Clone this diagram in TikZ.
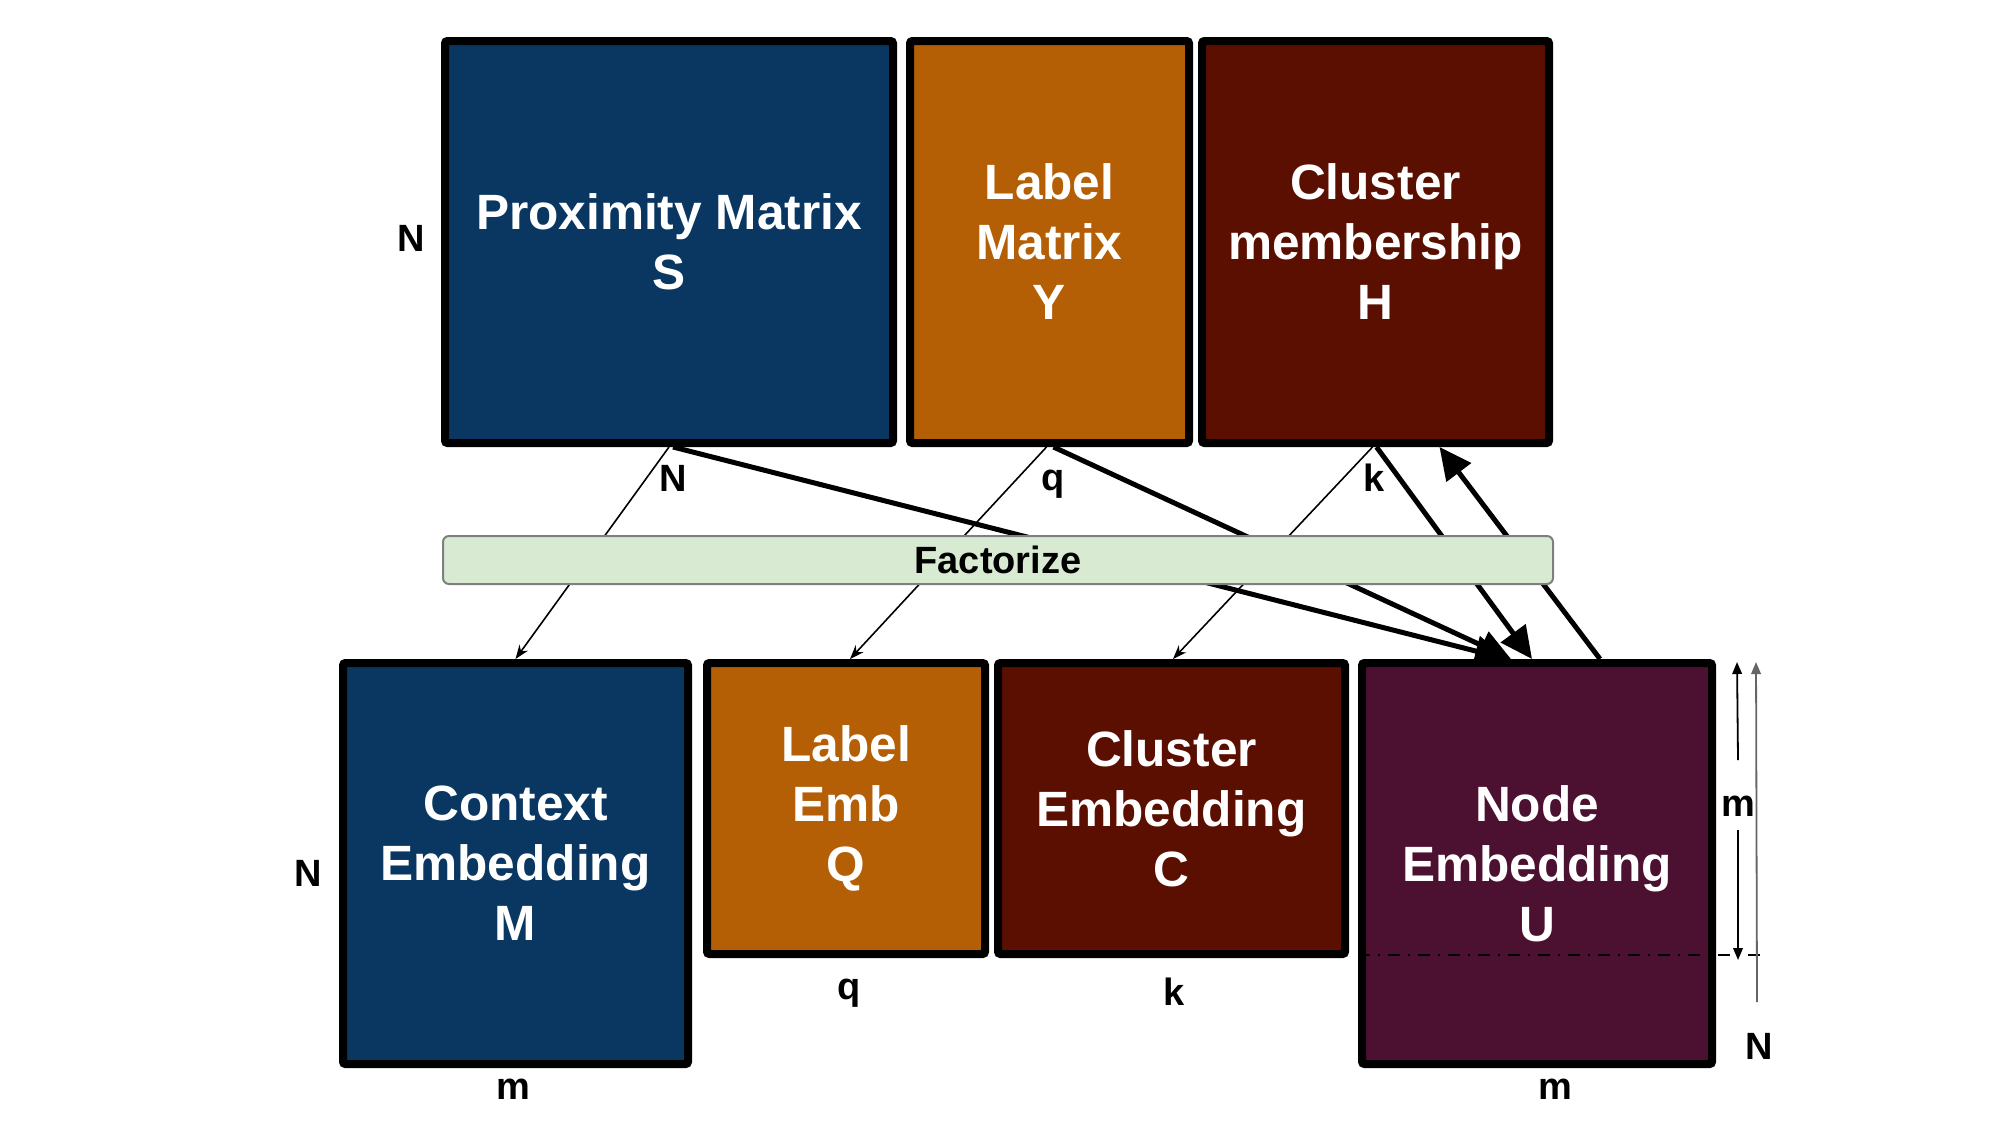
\documentclass[tikz,border=0pt]{standalone}
\usepackage{fontspec}
\setmainfont{Liberation Sans}
\usetikzlibrary{arrows.meta,calc}
\definecolor{cblue}{HTML}{0A3761}
\definecolor{corange}{HTML}{B45F06}
\definecolor{cred}{HTML}{5B0F00}
\definecolor{cpurple}{HTML}{4C1130}
\definecolor{cgreen}{HTML}{D9EAD3}
\definecolor{cgray}{HTML}{7F7F7F}
\tikzset{
  mbox/.style={draw=black, line width=2pt, rounded corners=0.6pt, inner sep=0pt,
    text=white, align=center, font=\bfseries\fontsize{12.4}{15}\selectfont},
  lbl/.style={inner sep=0pt, font=\bfseries\fontsize{9.5}{11}\selectfont},
  thinarrow/.style={line width=0.4pt, -{Stealth[length=3.5pt,width=2.6pt]}},
  thickarrow/.style={line width=1.25pt, -{Triangle[length=8pt,width=7.5pt]}},
  dimarrow/.style={line width=0.45pt, -{Triangle[length=3pt,width=2.4pt]}},
}
\begin{document}
\begin{tikzpicture}[x=0.25pt,y=-0.25pt]
\useasboundingbox (0,0) rectangle (2000,1125);
% top matrices
\node[mbox, fill=cblue, minimum width=112pt, minimum height=100.5pt] (S) at (669,242) {Proximity Matrix\\S};
\node[mbox, fill=corange, minimum width=69.75pt, minimum height=100.5pt] (Y) at (1049.5,242) {Label\\Matrix\\Y};
\node[mbox, fill=cred, minimum width=86.75pt, minimum height=100.5pt] (H) at (1375.5,242) {Cluster\\membership\\H};
% bottom matrices
\node[mbox, fill=cblue, minimum width=86.25pt, minimum height=100.25pt] (M) at (515.5,863.5) {Context\\Embedding\\M};
\node[mbox, fill=corange, minimum width=69.5pt, minimum height=72.75pt] (Q) at (846,808.5) {Label\\Emb\\Q};
\node[mbox, fill=cred, minimum width=86.75pt, minimum height=72.75pt] (C) at (1171.5,808.5) {Cluster\\Embedding\\C};
\node[mbox, fill=cpurple, minimum width=87.5pt, minimum height=100.25pt] (U) at (1537,863.5) {Node\\Embedding\\U};
% thin factorization arrows
\draw[thinarrow] (S.south) -- (M.north);
\draw[thinarrow] ($(Y.south)+(-3,0)$) -- ($(Q.north)+(4,0)$);
\draw[thinarrow] ($(H.south)+(-3,0)$) -- ($(C.north)+(1.5,0)$);
% thick arrows to node embedding
\draw[thickarrow] ($(S.south)+(4,0)$) -- ($(U.north)+(-30,0)$);
\draw[thickarrow] ($(Y.south)+(4,0)$) -- ($(U.north)+(-26,0)$);
\draw[thickarrow] ($(H.south)+(1,0)$) -- ($(U.north)+(-5,0)$);
\draw[thickarrow] ($(U.north)+(63,0)$) -- ($(H.south)+(64,0)$);
% factorize bar
\node[draw=cgray, fill=cgreen, line width=0.5pt, rounded corners=1.5pt,
  minimum width=277.5pt, minimum height=12pt, inner sep=0pt,
  font=\bfseries\fontsize{9.5}{11}\selectfont] (F) at (998,560) {Factorize};
% dimension labels
\node[lbl] (nS) at (411,238) {N};
\node[lbl] (nSb) at (673,478) {N};
\node[lbl] (qY) at (1053,484) {q};
\node[lbl] (kH) at (1374,478) {k};
\node[lbl] (nM) at (308,873) {N};
\node[lbl] (mM) at (513,1089) {m};
\node[lbl] (qQ) at (849,993) {q};
\node[lbl] (kC) at (1174,992) {k};
\node[lbl] (mU) at (1555,1089) {m};
% right-side dimension markers
\coordinate (dashL) at ($(U.west)+(0,91.5)$);
\coordinate (dashR) at (1763,955);
\draw[line width=0.5pt, dash dot] (dashL) -- (dashR);
\coordinate (nbot) at (1757,1002);
\coordinate (ntop) at (1756,662);
\draw[dimarrow, draw=cgray!80!black, fill=cgray!80!black] (nbot) -- (ntop);
\node[lbl] (nR) at (1759,1046) {N};
\node[lbl] (mR) at (1738,806) {m};
\coordinate (m1a) at (1738,760);
\coordinate (m1b) at (1737,662);
\coordinate (m2a) at (1738,830);
\coordinate (m2b) at (1738,960);
\draw[dimarrow] (m1a) -- (m1b);
\draw[dimarrow] (m2a) -- (m2b);
\end{tikzpicture}
\end{document}
